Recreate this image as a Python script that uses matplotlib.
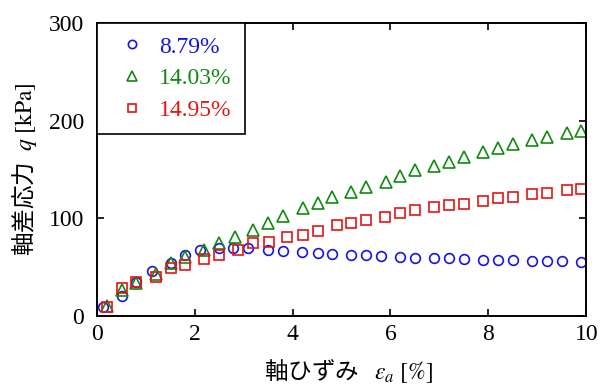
import matplotlib
matplotlib.use("Agg")
import matplotlib.pyplot as plt

# axial strain [%] and deviator stress [kPa] for each water content
x_879 = [0.13, 0.51, 0.81, 1.12, 1.51, 1.81, 2.11, 2.50, 2.79, 3.09, 3.50, 3.81,
         4.20, 4.51, 4.81, 5.19, 5.51, 5.81, 6.20, 6.50, 6.89, 7.20, 7.50, 7.89,
         8.19, 8.50, 8.90, 9.20, 9.50, 9.90]
q_879 = [9.2, 20.5, 34.8, 45.5, 53.9, 62.4, 67.0, 69.3, 69.3, 69.3, 67.0, 66.8,
         65.8, 64.2, 63.2, 62.1, 62.1, 61.1, 60.7, 59.7, 59.4, 59.4, 58.0, 57.6,
         57.6, 57.6, 56.3, 56.3, 56.3, 55.3]

x_1403 = [0.20, 0.51, 0.81, 1.20, 1.51, 1.81, 2.19, 2.50, 2.82, 3.20, 3.50, 3.81,
          4.21, 4.51, 4.81, 5.19, 5.51, 5.90, 6.20, 6.50, 6.89, 7.20, 7.50, 7.89,
          8.19, 8.50, 8.90, 9.20, 9.61, 9.90]
q_1403 = [10.2, 26.6, 34.1, 42.7, 53.9, 60.1, 67.6, 75.0, 81.2, 88.0, 95.2, 102.0,
          110.5, 116.0, 121.3, 127.2, 132.3, 136.8, 143.8, 149.4, 153.8, 157.9, 163.1, 167.6,
          171.6, 176.0, 180.1, 182.9, 187.6, 189.7]

x_1495 = [0.20, 0.51, 0.81, 1.20, 1.51, 1.81, 2.19, 2.50, 2.89, 3.20, 3.51, 3.89,
          4.21, 4.51, 4.90, 5.20, 5.50, 5.89, 6.20, 6.50, 6.89, 7.20, 7.50, 7.89,
          8.19, 8.50, 8.90, 9.20, 9.61, 9.90]
q_1495 = [8.9, 28.4, 35.1, 40.2, 48.8, 52.2, 58.0, 62.4, 67.6, 74.2, 76.0, 80.6,
          83.1, 87.3, 92.9, 95.5, 98.6, 101.6, 105.7, 108.5, 111.3, 113.6, 114.6, 118.0,
          120.5, 122.1, 124.9, 126.2, 129.0, 130.0]

labels = ["8.79%", "14.03%", "14.95%"]
colors = ["#1414e6", "#118a11", "#e61414"]

plt.rcParams["font.family"] = ["Liberation Serif", "Noto Sans CJK JP"]
plt.rcParams["mathtext.fontset"] = "stix"

fig = plt.figure(figsize=(6.05, 3.9), dpi=100)
ax = fig.add_axes([0.160, 0.190, 0.809, 0.751])

ax.plot(x_879, q_879, "o", ms=7, mfc="none", mec=colors[0], mew=1.2, label=labels[0])
ax.plot(x_1403, q_1403, "^", ms=8, mfc="none", mec=colors[1], mew=1.2, label=labels[1])
ax.plot(x_1495, q_1495, "s", ms=7, mfc="none", mec=colors[2], mew=1.2, label=labels[2])

ax.set_xlim(0, 10)
ax.set_ylim(0, 300)
ax.set_xticks([0, 2, 4, 6, 8, 10])
ax.set_yticks([0, 100, 200, 300])
ax.tick_params(direction="in", top=True, right=True, length=5, width=1.2,
               labelsize=17, pad=6)
ax.tick_params(axis="y", pad=9)
for s in ax.spines.values():
    s.set_linewidth(1.4)

# CJK part in Noto, the symbol part as stix math so it stays serif
ax.set_xlabel("軸ひずみ   $\\varepsilon_a\\ \\mathrm{[\\%]}$", fontsize=17,
              family="Noto Sans CJK JP")
ax.xaxis.set_label_coords(0.515, -0.140)
ax.set_ylabel("軸差応力  $q\\ \\mathrm{[kPa]}$", fontsize=17,
              family="Noto Sans CJK JP")
ax.yaxis.set_label_coords(-0.118, 0.5)

leg = ax.legend(loc="upper left", borderaxespad=0, fontsize=17, fancybox=False,
                framealpha=1, edgecolor="black", labelcolor=colors, markerscale=0.85,
                handletextpad=0.25, labelspacing=0.44, borderpad=0.55, handlelength=1.85)
leg.get_frame().set_linewidth(1.2)

fig.savefig("out.png", dpi=100)
